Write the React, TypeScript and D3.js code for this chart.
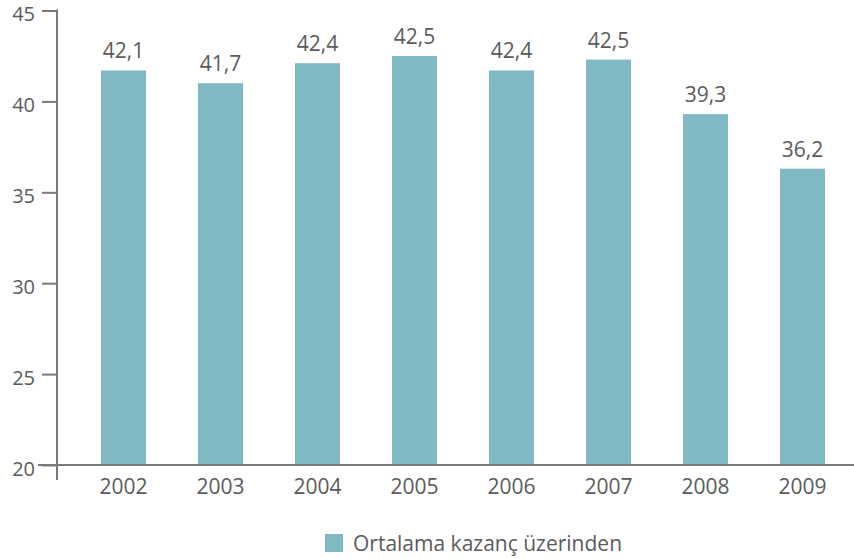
import React, { useRef, useEffect } from 'react';
import * as d3 from 'd3';

const years = ['2002', '2003', '2004', '2005', '2006', '2007', '2008', '2009'];
// bar heights as drawn in the picture
const barValues = [41.7, 41.0, 42.1, 42.5, 41.7, 42.3, 39.3, 36.3];
// printed labels above the bars
const valueLabels = ['42,1', '41,7', '42,4', '42,5', '42,4', '42,5', '39,3', '36,2'];
const yTicks = [20, 25, 30, 35, 40, 45];
const legendLabel = 'Ortalama kazanç üzerinden';

const width = 854;
const height = 559;
const barColor = '#80b8c4';
const textColor = '#5b5b5b';
const axisColor = '#7a7a7a';
const font = '"Open Sans", "Noto Sans", sans-serif';

const App: React.FC = () => {
  const svgRef = useRef<SVGSVGElement>(null);

  useEffect(() => {
    if (!svgRef.current) return;
    const svg = d3.select(svgRef.current);
    svg.selectAll('*').remove();

    const axisX = 57;
    const top = 10.5;
    const bottom = 465;

    const y = d3.scaleLinear().domain([20, 45]).range([bottom, top]);
    const x = d3
      .scaleBand<string>()
      .domain(years)
      .range([axisX, 869])
      .paddingInner(0.536)
      .paddingOuter(0.4536);

    // Bars
    svg
      .append('g')
      .selectAll('rect')
      .data(years)
      .enter()
      .append('rect')
      .attr('x', d => x(d) as number)
      .attr('y', (d, i) => y(barValues[i]))
      .attr('width', x.bandwidth())
      .attr('height', (d, i) => bottom - y(barValues[i]))
      .attr('fill', barColor);

    // Value labels
    svg
      .append('g')
      .selectAll('text')
      .data(years)
      .enter()
      .append('text')
      .attr('x', d => (x(d) as number) + x.bandwidth() / 2)
      .attr('y', (d, i) => y(barValues[i]) - 12)
      .attr('text-anchor', 'middle')
      .attr('fill', textColor)
      .attr('font-family', font)
      .attr('font-size', '21px')
      .text((d, i) => valueLabels[i]);

    // Y axis
    const yAxis = d3
      .axisLeft(y)
      .tickValues(yTicks)
      .tickSize(15)
      .tickPadding(7)
      .tickFormat(d => String(d));

    const gy = svg
      .append('g')
      .attr('transform', `translate(${axisX},0)`)
      .call(yAxis);
    gy.select('.domain').remove();
    gy.selectAll('line').attr('stroke', axisColor).attr('stroke-width', 2);
    gy.selectAll('text')
      .attr('dy', '0.5em')
      .attr('fill', textColor)
      .attr('font-family', font)
      .attr('font-size', '20px');

    svg
      .append('line')
      .attr('x1', axisX)
      .attr('x2', axisX)
      .attr('y1', top - 1)
      .attr('y2', 480)
      .attr('stroke', axisColor)
      .attr('stroke-width', 2);

    // X axis
    svg
      .append('line')
      .attr('x1', 38)
      .attr('x2', width)
      .attr('y1', bottom)
      .attr('y2', bottom)
      .attr('stroke', axisColor)
      .attr('stroke-width', 2);

    svg
      .append('g')
      .selectAll('text')
      .data(years)
      .enter()
      .append('text')
      .attr('x', d => (x(d) as number) + x.bandwidth() / 2)
      .attr('y', 494)
      .attr('text-anchor', 'middle')
      .attr('fill', textColor)
      .attr('font-family', font)
      .attr('font-size', '21px')
      .text(d => d);

    // Legend
    const legend = svg.append('g').attr('transform', 'translate(325,534)');
    legend.append('rect').attr('width', 18).attr('height', 18).attr('fill', barColor);
    legend
      .append('text')
      .attr('x', 28)
      .attr('y', 16.5)
      .attr('fill', textColor)
      .attr('font-family', font)
      .attr('font-size', '21px')
      .text(legendLabel);
  }, []);

  return (
    <svg
      ref={svgRef}
      width={width}
      height={height}
      style={{ position: 'absolute', left: 0, top: 0, background: '#fff' }}
    />
  );
};

export default App;
